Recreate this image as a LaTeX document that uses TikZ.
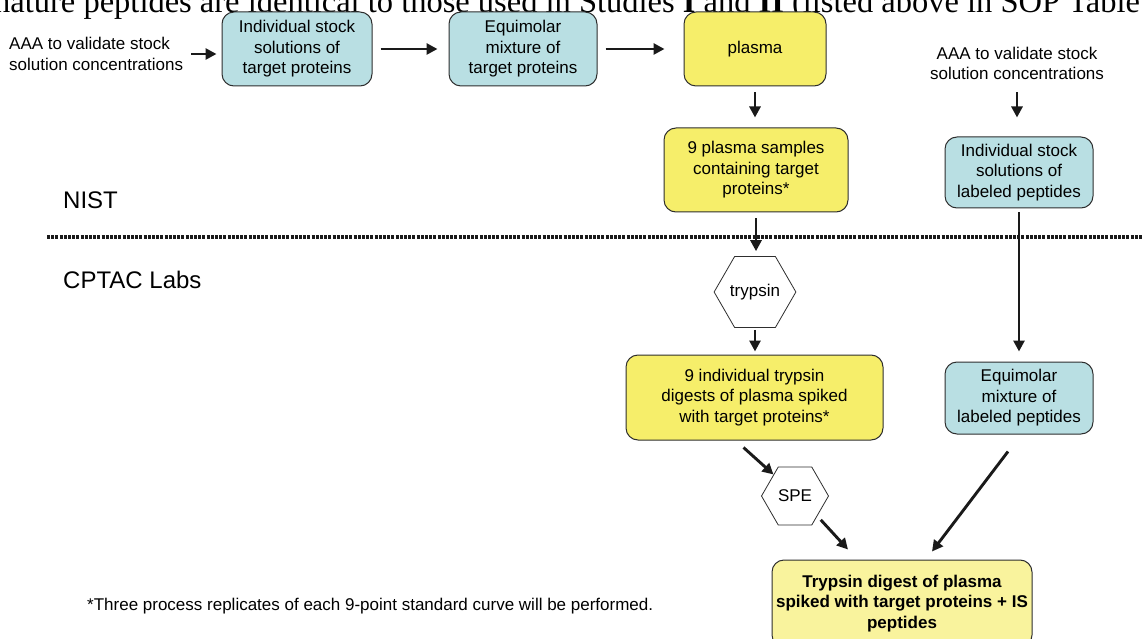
\documentclass[tikz,border=0pt]{standalone}
\usepackage{fontspec}
\setmainfont{Liberation Sans}
\newfontfamily\timesfont{Liberation Serif}
\usepackage{tikz}
\usetikzlibrary{arrows.meta}
\usetikzlibrary{shapes.geometric}
\usetikzlibrary{calc}
\definecolor{boxblue}{HTML}{B9DFE3}
\definecolor{boxyellow}{HTML}{F6EE6A}
\definecolor{paleyellow}{HTML}{F9F39D}
\definecolor{edgecolor}{HTML}{2E2E2E}
\definecolor{arrowcolor}{HTML}{1A1A1A}

\tikzset{
  txt/.style={font=\fontsize{17}{20.5}\selectfont, align=center, inner sep=0pt},
  box/.style={txt, draw=edgecolor, line width=1pt, rounded corners=12pt},
  bluebox/.style={box, fill=boxblue},
  yellowbox/.style={box, fill=boxyellow},
  hexa/.style={txt, draw=edgecolor, line width=0.8pt, fill=white, regular polygon, regular polygon sides=6, minimum size=67pt},
  arr/.style={draw=arrowcolor, line width=2.9pt, -{Triangle[length=11pt,width=11pt]}},
  sepline/.style={draw=arrowcolor, line width=3pt, dash pattern=on 3pt off 1.2pt},
}

\begin{document}
\begin{tikzpicture}[x=1pt,y=-1pt]
\useasboundingbox (0,0) rectangle (1143,639);
\clip (0,0) rectangle (1143,639);

%% cut-off line of the page above
\node[anchor=base west, inner sep=0pt, font=\timesfont\fontsize{32.5}{36}\selectfont] (pagetext) at (-6,12.5)
  {\llap{sig}nature peptides are identical to those used in Studies \textbf{I} and \textbf{II} (listed above in SOP Table};

%% NIST part
\node[txt, align=left, anchor=west] (aaaleft) at (9,54) {AAA to validate stock\\solution concentrations};
\node[bluebox, minimum width=150pt, minimum height=74pt] (tgtstock) at (297,49) {Individual stock\\solutions of\\target proteins};
\node[bluebox, minimum width=148pt, minimum height=74pt] (tgtmix) at (523,49) {Equimolar\\mixture of\\target proteins};
\node[yellowbox, minimum width=142pt, minimum height=74pt] (plasma) at (755,49) {plasma};
\node[yellowbox, minimum width=184pt, minimum height=84pt] (samples) at (756,170) {9 plasma samples\\containing target\\proteins*};
\node[txt] (aaaright) at (1017,63.5) {AAA to validate stock\\solution concentrations};
\node[bluebox, minimum width=148pt, minimum height=71pt] (labstock) at (1019,172.5) {Individual stock\\solutions of\\labeled peptides};

\node[txt, anchor=west, font=\fontsize{24}{28}\selectfont] (nist) at (63,200) {NIST};
\draw[sepline] (47,237) -- (1143,237);
\node[txt, anchor=west, font=\fontsize{24}{28}\selectfont] (cptac) at (63,280) {CPTAC Labs};

%% CPTAC part
\node[hexa] (trypsin) at (755,292) {trypsin};
\node[yellowbox, minimum width=257pt, minimum height=85pt] (digests) at (754.5,397.5) {9 individual trypsin\\digests of plasma spiked\\with target proteins*};
\node[bluebox, minimum width=148pt, minimum height=72pt] (labmix) at (1019,398) {Equimolar\\mixture of\\labeled peptides};
\node[hexa] (spe) at (795,496) {SPE};
\node[box, fill=paleyellow, minimum width=260pt, minimum height=87pt, font=\fontsize{17}{20.5}\selectfont\bfseries] (final) at (902,603.5)
  {Trypsin digest of plasma\\spiked with target proteins + IS\\peptides};

\node[txt, anchor=west] (note) at (87,606) {*Three process replicates of each 9-point standard curve will be performed.};

%% arrows
\draw[arr, shorten <=8pt, shorten >=5pt] (aaaleft.east) -- (aaaleft.east -| tgtstock.west);
\draw[arr, shorten <=8pt, shorten >=11pt] (tgtstock.east) -- (tgtmix.west);
\draw[arr, shorten <=8pt, shorten >=19pt] (tgtmix.east) -- (plasma.west);
\draw[arr, shorten <=6pt, shorten >=10pt] (plasma.south) -- (plasma.south |- samples.north);
\draw[arr, shorten <=12pt, shorten >=19pt] (aaaright.south) -- (aaaright.south |- labstock.north);
\draw[arr, shorten <=6pt, shorten >=5pt] (samples.south) -- (samples.south |- trypsin.north);
\draw[arr, shorten <=2pt, shorten >=3pt] (trypsin.south) -- (trypsin.south |- digests.north);
\draw[arr, shorten <=4pt, shorten >=10pt] (labstock.south) -- (labstock.south |- labmix.north);
\draw[arr] ($(digests.south)+(-11,7)$) -- (spe.135);
\draw[arr, shorten <=5pt] (spe.-42) -- ($(final.north)+(-54,-10)$);
\draw[arr] ($(labmix.south)+(-11,17)$) -- ($(final.north)+(30,-8)$);
\end{tikzpicture}
\end{document}
